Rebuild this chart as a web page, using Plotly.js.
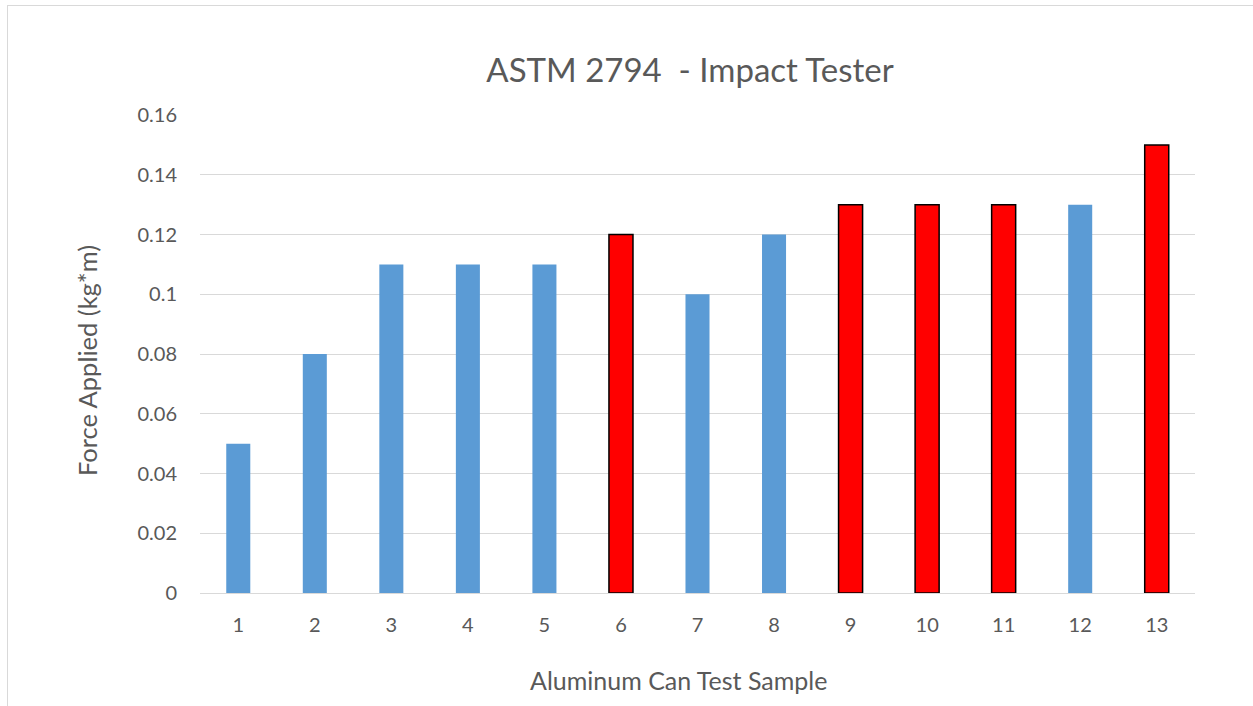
<!DOCTYPE html>
<html>
<head>
<meta charset="utf-8">
<script src="https://cdn.plot.ly/plotly-3.0.1.min.js"></script>
<style>
  html, body { margin: 0; padding: 0; background: #fff; }
  #chart { width: 1253px; height: 706px; }
  #frame { position: absolute; left: 7px; top: 5px; width: 1260px; height: 720px;
           border: 1px solid #d9d9d9; pointer-events: none; }
</style>
</head>
<body>
<div id="chart"></div>
<div id="frame"></div>
<script>
const samples = ['1','2','3','4','5','6','7','8','9','10','11','12','13'];
const force = [0.05, 0.08, 0.11, 0.11, 0.11, 0.12, 0.10, 0.12, 0.13, 0.13, 0.13, 0.13, 0.15];
const failed = [false, false, false, false, false, true, false, false, true, true, true, false, true];
const yTicks = [0, 0.02, 0.04, 0.06, 0.08, 0.1, 0.12, 0.14, 0.16];
const yTickLabels = ['0', '0.02', '0.04', '0.06', '0.08', '0.1', '0.12', '0.14', '0.16'];

const FONT = 'Lato, "Open Sans", "Liberation Sans", sans-serif';
const GREY = '#595959';

const trace = {
  type: 'bar',
  x: samples,
  y: force,
  marker: {
    color: failed.map(f => f ? '#ff0000' : '#5b9bd5'),
    line: { color: '#000000', width: failed.map(f => f ? 1.5 : 0) }
  },
  hoverinfo: 'x+y'
};

const layout = {
  width: 1253, height: 706,
  margin: { l: 200, r: 58, t: 115, b: 113 },
  paper_bgcolor: '#ffffff', plot_bgcolor: '#ffffff',
  bargap: 0.686,
  showlegend: false,
  font: { family: FONT, color: GREY, size: 20 },
  title: {
    text: 'ASTM 2794&nbsp;&nbsp;- Impact Tester',
    font: { family: FONT, size: 33, color: GREY },
    x: 0.4925, xref: 'paper', xanchor: 'center',
    y: 1 - 70 / 706, yref: 'container', yanchor: 'middle'
  },
  xaxis: {
    type: 'category',
    showgrid: false,
    showline: true, linecolor: '#d9d9d9', linewidth: 1,
    ticks: '', ticklabelstandoff: 14,
    tickfont: { family: FONT, size: 20, color: GREY },
    zeroline: false
  },
  yaxis: {
    range: [0, 0.16],
    tickvals: yTicks, ticktext: yTickLabels,
    showgrid: true, gridcolor: '#d9d9d9', gridwidth: 1,
    showline: false, zeroline: false, ticks: '',
    ticklabelstandoff: 22,
    tickfont: { family: FONT, size: 20, color: GREY }
  },
  annotations: [
    {
      text: 'Force Applied (kg*m)', xref: 'paper', yref: 'paper',
      x: (87 - 200) / 995, y: (593 - 361) / 478,
      xanchor: 'center', yanchor: 'middle', textangle: -90, showarrow: false,
      font: { family: FONT, size: 25.5, color: GREY }
    },
    {
      text: 'Aluminum Can Test Sample', xref: 'paper', yref: 'paper',
      x: (678 - 200) / 995, y: (593 - 680) / 478,
      xanchor: 'center', yanchor: 'middle', showarrow: false,
      font: { family: FONT, size: 25, color: GREY }
    }
  ]
};

Plotly.newPlot('chart', [trace], layout, { displayModeBar: false, responsive: false });
</script>
</body>
</html>
